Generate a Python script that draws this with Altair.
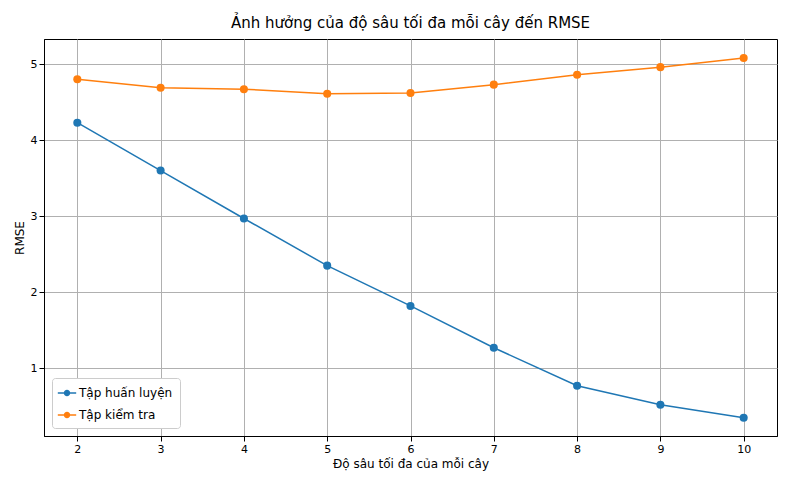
import altair as alt
import pandas as pd

depth = [2, 3, 4, 5, 6, 7, 8, 9, 10]
train_rmse = [4.23, 3.60, 2.97, 2.35, 1.82, 1.27, 0.77, 0.52, 0.35]
test_rmse = [4.80, 4.69, 4.67, 4.61, 4.62, 4.73, 4.86, 4.96, 5.08]
series = ["Tập huấn luyện", "Tập kiểm tra"]

df = pd.concat([
    pd.DataFrame({"depth": depth, "rmse": train_rmse, "set": series[0]}),
    pd.DataFrame({"depth": depth, "rmse": test_rmse, "set": series[1]}),
])

color = alt.Color(
    "set:N",
    scale=alt.Scale(domain=series, range=["#1f77b4", "#ff7f0e"]),
    legend=alt.Legend(
        title=None, orient="bottom-left", offset=8,
        symbolType="M-1.3,0L1.3,0M0.35,0A0.35,0.35,0,1,1,-0.35,0A0.35,0.35,0,1,1,0.35,0",
        symbolSize=200, symbolStrokeWidth=1.5, labelFontSize=12, rowPadding=8,
        strokeColor="#cccccc", fillColor="white", padding=7, cornerRadius=3,
    ),
)

x = alt.X("depth:Q", title="Độ sâu tối đa của mỗi cây",
          scale=alt.Scale(domain=[1.6, 10.4], nice=False),
          axis=alt.Axis(values=depth, format="d"))
y = alt.Y("rmse:Q", title="RMSE",
          scale=alt.Scale(domain=[0.11, 5.33], nice=False, zero=False),
          axis=alt.Axis(values=[1, 2, 3, 4, 5]))

chart = (
    alt.Chart(df)
    .mark_line(point=alt.OverlayMarkDef(size=65, filled=True, opacity=1), strokeWidth=1.5)
    .encode(x=x, y=y, color=color)
    .properties(width=733, height=397, padding={"top": 8, "left": 5, "right": 5, "bottom": 5},
                title=alt.TitleParams("Ảnh hưởng của độ sâu tối đa mỗi cây đến RMSE",
                                      fontSize=15, fontWeight="normal", offset=8))
    .configure(font="DejaVu Sans")
    .configure_axis(grid=True, gridColor="#b0b0b0", gridOpacity=1, domainColor="black",
                    tickColor="black", labelFontSize=11, titleFontSize=12,
                    titleFontWeight="normal", labelColor="black", titleColor="black")
    .configure_view(stroke="black")
)

chart.save("out.html", embed_options={"renderer": "svg", "actions": False})
